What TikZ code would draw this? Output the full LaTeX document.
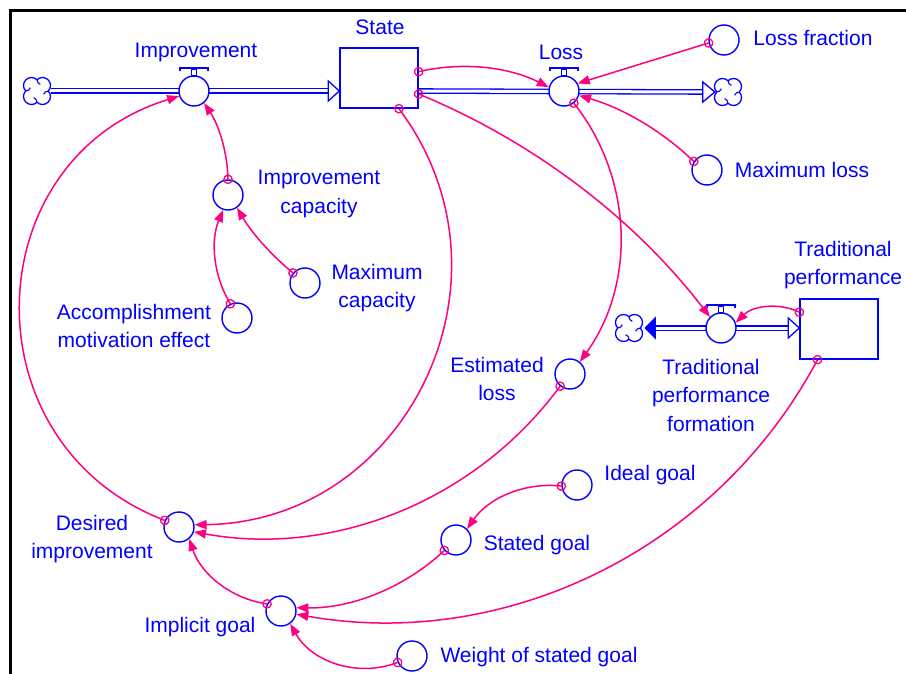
\documentclass[tikz,border=0pt]{standalone}
\usepackage{fontspec}
\setmainfont{Liberation Sans}
\usetikzlibrary{arrows.meta,calc,decorations.markings,backgrounds}

\definecolor{flowblue}{RGB}{0,0,255}
\definecolor{linkpink}{RGB}{255,0,128}

\tikzset{
  x=1pt, y=-1pt,
  every node/.style={font=\fontsize{21}{28.5}\selectfont},
  lbl/.style={text=flowblue, align=center, inner sep=0pt},
  aux/.style={circle, draw=flowblue, line width=1.4pt, fill=white,
    minimum size=30pt, inner sep=0pt},
  valve/.style={aux},
  stock/.style={rectangle, draw=flowblue, line width=1.4pt, fill=white,
    minimum width=78pt, minimum height=60pt, inner sep=0pt},
  cloudspot/.style={circle, minimum size=28pt, inner sep=0pt},
  pipe/.style={draw=flowblue, double=white, double distance=3pt, line width=1.3pt},
  opentip/.style={draw=flowblue, line width=1.3pt, fill=white, line join=miter},
  solidtip/.style={draw=flowblue, line width=1.3pt, fill=flowblue},
  link/.style={draw=linkpink, line width=1.5pt,
    -{Triangle[length=12pt,width=9pt]},
    postaction={decorate, decoration={markings,
      mark=at position 0pt with {\draw[linkpink, line width=1.3pt, -] (0,0) circle (4.2pt);}}}},
  % circular-arc connectors: the curve leaves the chord at #1 degrees
  arcl/.style={to path={
    .. controls ($(\tikztostart)!{1/(3*cos(#1/2)^2)}!#1:(\tikztotarget)$)
    and ($(\tikztotarget)!{1/(3*cos(#1/2)^2)}!-#1:(\tikztostart)$)
    .. (\tikztotarget) \tikztonodes}},
  arcr/.style={to path={
    .. controls ($(\tikztostart)!{1/(3*cos(#1/2)^2)}!-#1:(\tikztotarget)$)
    and ($(\tikztotarget)!{1/(3*cos(#1/2)^2)}!#1:(\tikztostart)$)
    .. (\tikztotarget) \tikztonodes}},
  valvecap/.pic={
    \draw[flowblue, line width=1.3pt, fill=white] (-2.5,-21.5) rectangle (2.5,-15);
    \draw[flowblue, line width=1.6pt, line cap=round]
      (-14,-20.5) -- (-14,-23) -- (14,-23) -- (14,-20.5);
  },
  cloudpic/.pic={
    \draw[flowblue, line width=1.3pt, fill=white]
      (11.31pt,0pt) arc[start angle=-43.4, end angle=133.4, radius=8pt]
      arc[start angle=46.6, end angle=223.4, radius=8pt]
      arc[start angle=136.6, end angle=313.4, radius=8pt]
      arc[start angle=226.6, end angle=403.4, radius=8pt] -- cycle;
    \draw[flowblue, line width=1.1pt]
      (0pt,11.31pt) arc[start angle=180, end angle=250, radius=5pt]
      (11.31pt,0pt) arc[start angle=90, end angle=160, radius=5pt]
      (0pt,-11.31pt) arc[start angle=0, end angle=70, radius=5pt]
      (-11.31pt,0pt) arc[start angle=270, end angle=340, radius=5pt];
  },
}

\begin{document}
\begin{tikzpicture}
\useasboundingbox (0,0) rectangle (906,674);

% stocks
\node[stock] (state) at (379,78) {};
\node[stock] (tp) at (839,329) {};

% flow valves
\node[valve] (improv) at (194,91) {};
\node[valve] (loss) at (564,91) {};
\node[valve] (tpf) at (721,328) {};
\pic at (improv) {valvecap};
\pic at (loss) {valvecap};
\pic at (tpf) {valvecap};

% sources and sinks
\node[cloudspot] (cloudL) at (37,91) {};
\node[cloudspot] (cloudR) at (728,92) {};
\node[cloudspot] (cloudT) at (629,328) {};
\pic at (cloudL) {cloudpic};
\pic at (cloudR) {cloudpic};
\pic at (cloudT) {cloudpic};

% auxiliaries
\node[aux] (lossfrac) at (724,40) {};
\node[aux] (maxloss) at (707,170) {};
\node[aux] (impcap) at (228,195) {};
\node[aux] (maxcap) at (305,283) {};
\node[aux] (accomp) at (237,318) {};
\node[aux] (estloss) at (570,374) {};
\node[aux] (desired) at (179,527) {};
\node[aux] (implicit) at (281,611) {};
\node[aux] (ideal) at (577,485) {};
\node[aux] (stated) at (456,540) {};
\node[aux] (weight) at (412,656) {};

% pipes and frame, kept behind the valves
\begin{scope}[on background layer]
  \draw[line width=3pt] (10,700) -- (10,11) -- (930,11);
  \draw[pipe] (cloudL.east) -- ($(state.west |- improv)+(-11,0)$);
  \draw[pipe] (state.east |- loss) -- ($(cloudR.west)+(-12,0)$);
  \draw[pipe] ($(cloudT.east)+(12,0)$) -- ($(tp.west |- tpf)+(-11,0)$);
\end{scope}

% flow arrowheads
\draw[opentip] (state.west |- improv) -- ++(-11,-10) -- ++(0,20) -- cycle;
\draw[opentip] ($(cloudR.west)+(1,0)$) -- ++(-12,-10) -- ++(0,20) -- cycle;
\draw[opentip] (tp.west |- tpf) -- ++(-11,-10) -- ++(0,20) -- cycle;
\draw[solidtip] ($(cloudT.east)+(2,0)$) -- ++(10,-10) -- ++(0,20) -- cycle;

% labels
\node[lbl] (tImprov) at (196,52) {Improvement};
\node[lbl] (tState) at (380,27) {State};
\node[lbl] (tLoss) at (561,52) {Loss};
\node[lbl] (tLossfrac) at (813,38) {Loss fraction};
\node[lbl] (tMaxloss) at (802,170) {Maximum loss};
\node[lbl] (tImpcap) at (319,194) {Improvement\\capacity};
\node[lbl] (tMaxcap) at (377,288) {Maximum\\capacity};
\node[lbl] (tAccomp) at (134,326) {Accomplishment\\motivation effect};
\node[lbl] (tEstloss) at (497,379) {Estimated\\loss};
\node[lbl] (tTpf) at (711,395) {Traditional\\performance\\formation};
\node[lbl] (tTp) at (843,265) {Traditional\\performance};
\node[lbl] (tDesired) at (92,539) {Desired\\improvement};
\node[lbl] (tImplicit) at (200,627) {Implicit goal};
\node[lbl] (tIdeal) at (650,475) {Ideal goal};
\node[lbl] (tStated) at (537,545) {Stated goal};
\node[lbl] (tWeight) at (539,657) {Weight of stated goal};

% causal links
\draw[link] (state.9) to[arcl=20] (loss.166);
\draw[link] (state.-22) to[arcl=15] (tpf.135);
\draw[link] (state.-57) to[arcl=63] (desired.8);
\draw[link] (lossfrac.191) -- (loss.29);
\draw[link] (maxloss.147) to[arcr=14] (loss.-17);
\draw[link] (loss.-51) to[arcl=37] (estloss.51);
\draw[link] (estloss.231) to[arcl=32] (desired.-18);
\draw[link] (impcap.90) to[arcr=16] (improv.-50);
\draw[link] (maxcap.140) to[arcl=10] (impcap.-55);
\draw[link] (accomp.115) to[arcl=27] (impcap.-108);
\draw[link] (desired.155) to[arcl=71] (improv.199);
\draw[link] (tp.157) to[arcr=35] (tpf.20);
\draw[link] (tp.235) to[arcl=36] (implicit.-12);
\draw[link] (ideal.184) to[arcr=31] (stated.45);
\draw[link] (stated.222) to[arcl=22] (implicit.12);
\draw[link] (implicit.153) to[arcl=32] (desired.-49);
\draw[link] (weight.204) to[arcl=41] (implicit.-54);
\end{tikzpicture}
\end{document}
